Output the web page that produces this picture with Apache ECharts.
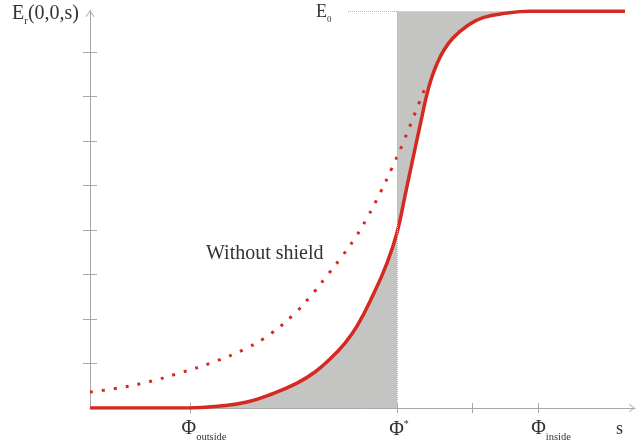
<!DOCTYPE html>
<html>
<head>
<meta charset="utf-8">
<script src="https://cdn.jsdelivr.net/npm/echarts@6.0.0/dist/echarts.min.js"></script>
<style>
  html, body { margin: 0; padding: 0; background: #fff; }
  #chart { width: 636px; height: 443px; }
</style>
</head>
<body>
<div id="chart"></div>
<script>
// NOTE - 有屏蔽 (实线)  x: 位置 s, y: 刻度单位
const shieldX = [0, 10, 13, 15.7, 18.2, 20.7, 22.5, 24, 25.5, 26.7, 28.3, 29.7, 30.7, 31.5, 32.3, 33.1, 33.6, 34.1, 34.7, 35.4, 36.3, 37.7, 39.3, 41.7, 44, 53.5]
const shieldY = [0, 0, 0.045, 0.135, 0.315, 0.56, 0.81, 1.1, 1.46, 1.84, 2.54, 3.26, 3.94, 4.77, 5.62, 6.45, 6.97, 7.38, 7.74, 8.05, 8.32, 8.59, 8.78, 8.88, 8.92, 8.92]

// NOTE - 无屏蔽 (点线)
const freeX = [0, 2.3, 5.7, 9, 12.3, 15.7, 18, 20.3, 22, 23.5, 25, 26.5, 27.7, 29, 30.2, 31.3, 32.4, 33.7]
const freeY = [0.36, 0.43, 0.58, 0.79, 1.03, 1.35, 1.66, 2.09, 2.5, 2.92, 3.35, 3.82, 4.27, 4.83, 5.4, 5.96, 6.57, 7.31]

const phiOutside = 10
const phiStar = 30.7
const E0 = 8.92
const e0GuideStart = 25.8

// 刻度
const xTickValues = [10, 30.7, 38.2, 44.8]
const xTickLabels = ['{g1|}{phi|Φ}{sub|outside}', '{g3|}{phi|Φ}{sup|*}', '', '{g2|}{phi|Φ}{sub|inside}']
const yTickValues = [1, 2, 3, 4, 5, 6, 7, 8]

const serif = 'Liberation Serif'
const red = '#d42a22'
const axisGray = '#a8a8a8'
const fillGray = '#c4c4c2'
const textColor = '#333'
const chevron = 'path://M0,7 L5,0 L10,7 L9.1,7.5 L5,1.7 L0.9,7.5 Z'
const smoothness = 0.45

const pairs = (xs, ys) => xs.map((x, i) => [x, ys[i]])
const shieldData = pairs(shieldX, shieldY)
const freeData = pairs(freeX, freeY)
const fillLower = shieldData.filter(p => p[0] >= phiOutside && p[0] <= phiStar)
const fillUpper = shieldData.filter(p => p[0] >= phiStar && p[0] <= 44)

const myChart = echarts.init(document.querySelector('#chart'))

const axisCommonX = {
    type: 'value',
    min: 0,
    max: 54.5,
    position: 'bottom',
    splitLine: { show: false },
}
const axisCommonY = {
    type: 'value',
    min: 0,
    max: 8.95,
    position: 'left',
    splitLine: { show: false },
}
const txt = (size, extra) => ({ fontFamily: serif, fontSize: size, fontWeight: 'normal', color: textColor, verticalAlign: 'bottom', ...extra })

const option = {
    animation: false,
    backgroundColor: '#fff',
    grid: { left: 90, right: 1, top: 10, bottom: 35 },
    title: [
        {
            text: '{e|E}{r|r}{e|(0,0,s)}',
            left: 12, top: 4, padding: 0,
            textStyle: {
                fontWeight: 'normal',
                rich: { e: txt(20, { padding: [0, 0, 3, 0] }), r: txt(11) }
            }
        },
        {
            text: '{e|E}{r|0}',
            left: 316, top: 3, padding: 0,
            textStyle: {
                fontWeight: 'normal',
                rich: { e: txt(18, { padding: [0, 0, 3, 0] }), r: txt(9) }
            }
        },
        {
            text: 'Without shield',
            left: 206, top: 244, padding: 0,
            textStyle: { fontFamily: serif, fontSize: 20, fontWeight: 'normal', color: textColor }
        },
        {
            text: 's',
            left: 616, top: 420, padding: 0,
            textStyle: { fontFamily: serif, fontSize: 18, fontWeight: 'normal', color: textColor }
        }
    ],
    xAxis: [
        {
            ...axisCommonX,
            axisLine: {
                show: true,
                lineStyle: { color: axisGray, width: 1 },
                symbol: ['none', chevron],
                symbolSize: [10, 6],
                symbolOffset: [0, -3]
            },
            axisTick: { show: true, customValues: xTickValues, length: 5, lineStyle: { color: axisGray } },
            axisLabel: {
                show: true,
                customValues: xTickValues,
                margin: 11,
                formatter: v => xTickLabels[xTickValues.indexOf(v)] || '',
                rich: {
                    phi: txt(20, { padding: [0, 0, 4, 0] }),
                    sub: txt(10.5),
                    sup: txt(10, { padding: [0, 0, 15, 0] }),
                    g1: { width: 28 },
                    g2: { width: 26 },
                    g3: { width: 4 }
                }
            }
        },
        {
            ...axisCommonX,
            axisLine: { show: false },
            axisTick: { show: true, inside: true, customValues: xTickValues, length: 5, lineStyle: { color: axisGray } },
            axisLabel: { show: false }
        }
    ],
    yAxis: [
        {
            ...axisCommonY,
            axisLine: {
                show: true,
                lineStyle: { color: axisGray, width: 1 },
                symbol: ['none', chevron],
                symbolSize: [9, 7],
                symbolOffset: [0, -3.5]
            },
            axisTick: { show: true, customValues: yTickValues, length: 7, lineStyle: { color: axisGray } },
            axisLabel: { show: false }
        },
        {
            ...axisCommonY,
            axisLine: { show: false },
            axisTick: { show: true, inside: true, customValues: yTickValues, length: 7, lineStyle: { color: axisGray } },
            axisLabel: { show: false }
        }
    ],
    series: [
        {
            name: 'fill-lower',
            type: 'line',
            data: fillLower,
            smooth: smoothness,
            showSymbol: false,
            silent: true,
            z: 1,
            lineStyle: { width: 0 },
            areaStyle: { color: fillGray, opacity: 1 },
            markLine: {
                silent: true,
                symbol: 'none',
                label: { show: false },
                lineStyle: { type: 'dotted', color: '#b8b8b8', width: 1 },
                data: [
                    [{ coord: [phiStar, 0] }, { coord: [phiStar, E0] }],
                    [{ coord: [e0GuideStart, E0] }, { coord: [phiStar, E0] }]
                ]
            }
        },
        {
            name: 'fill-upper',
            type: 'line',
            data: fillUpper,
            smooth: smoothness,
            showSymbol: false,
            silent: true,
            z: 1,
            lineStyle: { width: 0 },
            areaStyle: { color: fillGray, opacity: 1, origin: E0 }
        },
        {
            name: 'Without shield',
            type: 'line',
            data: freeData,
            smooth: smoothness,
            showSymbol: false,
            z: 3,
            lineStyle: { color: red, width: 3, type: [3, 9], cap: 'butt' }
        },
        {
            name: 'With shield',
            type: 'line',
            data: shieldData,
            smooth: smoothness,
            showSymbol: false,
            z: 4,
            lineStyle: { color: red, width: 3.5 }
        }
    ]
}

myChart.setOption(option)
</script>
</body>
</html>
